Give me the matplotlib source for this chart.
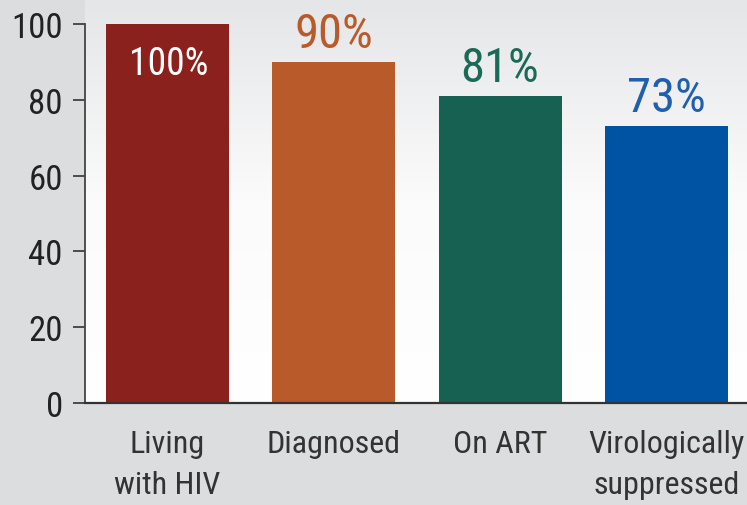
import numpy as np
import matplotlib
matplotlib.use("Agg")
import matplotlib.pyplot as plt
from matplotlib.colors import LinearSegmentedColormap

plt.rcParams['font.family'] = ['Roboto Condensed', 'DejaVu Sans']

# data
categories = ["Living\nwith HIV", "Diagnosed", "On ART", "Virologically\nsuppressed"]
values = [100, 90, 81, 73]
labels = ["100%", "90%", "81%", "73%"]
bar_colors = ["#8b211c", "#b95a2a", "#176152", "#0052a3"]
label_colors = ["white", "#b95a2a", "#1a6a58", "#1f5fad"]
yticks = [0, 20, 40, 60, 80, 100]

fig = plt.figure(figsize=(7.47, 5.06), dpi=100, facecolor="#dcdddf")
ax = fig.add_axes([0.1138, 0.2016, 0.8862, 0.7984])

# gradient background of the plot area
grad = np.linspace(0, 1, 256).reshape(-1, 1)
cmap = LinearSegmentedColormap.from_list("bg", ["#ffffff", "#fbfbfb", "#e5e6e8"])
ax.imshow(grad, extent=[0, 1, 0, 1], transform=ax.transAxes, origin="lower",
          aspect="auto", cmap=cmap, zorder=0)

x = np.arange(len(values))
ax.bar(x, values, width=0.74, color=bar_colors, zorder=2)

for i, v in enumerate(values):
    if i == 0:
        ax.annotate(labels[i], (x[i], v), xytext=(1, -36), textcoords="offset points",
                    ha="center", va="baseline", fontsize=27, color=label_colors[i], zorder=3)
    else:
        ax.annotate(labels[i], (x[i], v), xytext=(0, 11), textcoords="offset points",
                    ha="center", va="baseline", fontsize=35, color=label_colors[i], zorder=3)

ax.set_xlim(-0.496, 3.485)
ax.set_ylim(0, 106.6)
ax.set_yticks(yticks)
ax.set_yticklabels([str(t) for t in yticks])
ax.set_xticks(x)
ax.set_xticklabels(categories, linespacing=1.5)

ax.tick_params(axis="y", direction="out", length=9, width=1.2, pad=7,
               labelsize=25, colors="#333333", labelcolor="#222222")
ax.tick_params(axis="x", length=0, pad=19, labelsize=23, labelcolor="#333333")

ax.spines["top"].set_visible(False)
ax.spines["right"].set_visible(False)
ax.spines["left"].set_bounds(0, 100)
ax.spines["left"].set_color("#444444")
ax.spines["left"].set_linewidth(1.3)
ax.spines["bottom"].set_color("#333333")
ax.spines["bottom"].set_linewidth(1.6)
ax.spines["bottom"].set_zorder(4)

fig.savefig("out.png", dpi=100, facecolor=fig.get_facecolor())
